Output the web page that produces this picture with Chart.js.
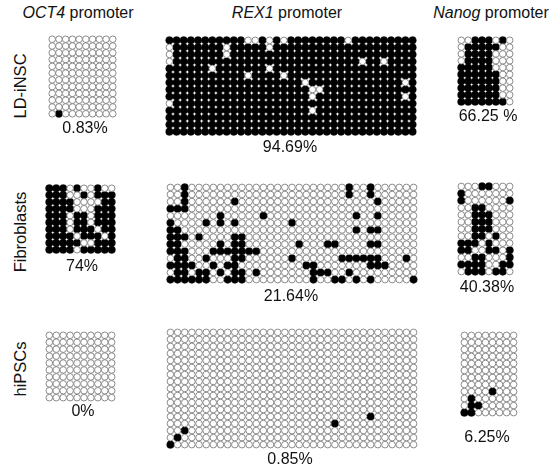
<!DOCTYPE html>
<html><head><meta charset="utf-8">
<script src="https://cdn.jsdelivr.net/npm/chart.js@4.4.1/dist/chart.umd.min.js"></script>
<style>
html,body{margin:0;padding:0;background:#fff;}
#wrap{position:relative;width:554px;height:466px;overflow:hidden;font-family:"Liberation Sans",Arial,sans-serif;color:#111;}
.t{position:absolute;white-space:nowrap;transform:translate(-50%,-50%);font-size:16px;line-height:1;}
.r{position:absolute;white-space:nowrap;transform:translate(-50%,-50%) rotate(-90deg);font-size:16.5px;line-height:1;}
canvas{position:absolute;}
</style></head><body><div id="wrap"></div>
<script>
// ---- data: 1 = methylated CpG (filled), 0 = unmethylated (open); one string per clone ----
const promoters = ["OCT4", "REX1", "Nanog"];
const cellTypes = ["LD-iNSC", "Fibroblasts", "hiPSCs"];
const percentLabels = [["0.83%", "94.69%", "66.25 %"], ["74%", "21.64%", "40.38%"], ["0%", "0.85%", "6.25%"]];

const OCT4_LD = ["0000000000","0000000000","0000000000","0000000000","0000000000","0000000000",
  "0000000000","0000000000","0000000000","0000000000","0000000000","0100000000"];
const OCT4_Fib = ["1110100100","1110010111","1111000011","1111000111","1110110111",
  "1110110111","1110111011","1111011101","1111100111","1111011111"];
const OCT4_hiPSC = ["0000000000","0000000000","0000000000","0000000000","0000000000",
  "0000000000","0000000000","0000000000","0000000000","0000000000"];

const REX1_LD = [
  "11111 11111 10010 10111 11111 01111 11111",
  "01111 11101 11110 11111 11111 11111 11111",
  "01111 11101 11111 11111 11111 11111 11111",
  "01111 11111 11111 11111 11111 11011 01111",
  "11111 10111 11110 11111 11111 11111 11111",
  "11111 11111 10111 10111 11111 11111 11111",
  "11111 11111 11111 11110 11111 11111 11101",
  "11111 11111 11111 11111 00111 11111 11111",
  "11111 11111 11111 11111 01111 11111 11101",
  "01111 11111 11111 11111 11111 11111 11111",
  "11111 11111 11111 11111 01111 11111 11111",
  "11111 11111 11111 11111 11111 11111 11111",
  "11111 11111 11111 11111 11111 11111 11111",
  "11111 11111 11111 11111 11111 11111 11111"];
const REX1_Fib = [
  "00100 00000 00000 00000 00000 10010 00000",
  "00100 00000 00000 00000 00000 10010 00000",
  "00100 00001 00000 00000 00000 00001 00000",
  "11100 00000 00000 00000 00000 00000 00000",
  "00000 00100 00010 00000 00000 01001 00000",
  "10000 10101 00000 00100 00000 00000 00000",
  "11000 00000 00000 00000 00000 01011 00000",
  "11101 00001 10000 00000 00000 00000 00000",
  "11000 00101 10000 00010 00110 00011 00000",
  "11100 01111 11100 00000 00000 00000 00000",
  "01100 10001 10000 00100 00001 11111 00010",
  "11110 01011 00000 00001 10000 00011 10000",
  "01101 10101 10100 00000 11100 10000 00000",
  "11111 10011 10000 00000 10011 01010 00001"];
const REX1_hiPSC = [
  "00000 00000 00000 00000 00000 00000 00000",
  "00000 00000 00000 00000 00000 00000 00000",
  "00000 00000 00000 00000 00000 00000 00000",
  "00000 00000 00000 00000 00000 00000 00000",
  "00000 00000 00000 00000 00000 00000 00000",
  "00000 00000 00000 00000 00000 00000 00000",
  "00000 00000 00000 00000 00000 00000 00000",
  "00000 00000 00000 00000 00000 00000 00000",
  "00000 00000 00000 00000 00000 00000 00000",
  "00000 00000 00000 00000 00000 00000 00000",
  "00000 00000 00000 00000 00000 00000 00000",
  "00000 00000 00000 00000 00000 00000 00000",
  "00000 00000 00000 00000 00000 00010 00000",
  "00000 00000 00000 00000 00010 00000 00000",
  "00100 00000 00000 00000 00000 00000 00000",
  "01000 00000 00000 00000 00000 00000 00000",
  "10000 00000 00000 00000 00000 00000 00000"];

const Nanog_LD = ["00111010","01111100","01111000","01111000","11111000",
  "11111100","11111100","11111100","11111100","11111110"];
const Nanog_Fib = ["00011000","10000000","10000001","00110000","00111000","00111000","00111000",
  "00110100","11101000","11001101","00110001","11110011","01110110"];
const Nanog_hiPSC = ["00000000","00000000","00000000","00000000","00000000","00000000",
  "00000000","00000000","00001000","01000000","01100000","11000000"];

const grids = [[OCT4_LD, REX1_LD, Nanog_LD], [OCT4_Fib, REX1_Fib, Nanog_Fib], [OCT4_hiPSC, REX1_hiPSC, Nanog_hiPSC]];

// ---- layout (pixel boxes of each panel, label anchors) ----
const boxes = [
  [[48,35,69,83],[165,36,252,100],[457,36,57,70]],
  [[45,184,71,70],[166,183,252,101],[457,182,57,94]],
  [[45,331,71,71],[166,328,252,121],[460,331,58,86]]
];
const pctPos = [[[85,128],[290,147],[488,116]],[[82,266],[291,296],[487,287]],[[83,411],[290,459],[487,437]]];
const titlePos = [[78,13],[287,13],[491,13]];
const rowPos = [[20,86],[20,232],[20,369]];

const wrap = document.getElementById('wrap');
function addText(cls, html, x, y) {
  const d = document.createElement('div');
  d.className = cls; d.innerHTML = html;
  d.style.left = x + 'px'; d.style.top = y + 'px';
  wrap.appendChild(d);
}
promoters.forEach((p, i) => addText('t', '<i>' + p + '</i> promoter', titlePos[i][0], titlePos[i][1]));
cellTypes.forEach((c, i) => addText('r', c, rowPos[i][0], rowPos[i][1]));

const PAD = 4;
for (let r = 0; r < 3; r++) {
  for (let c = 0; c < 3; c++) {
    const rows = grids[r][c].map(s => s.replace(/ /g, ''));
    const nRows = rows.length, nCols = rows[0].length;
    const open = [], filled = [];
    rows.forEach((s, ri) => { for (let ci = 0; ci < s.length; ci++) (s[ci] === '1' ? filled : open).push({x: ci, y: ri}); });
    const [L, T, W, H] = boxes[r][c];
    const cv = document.createElement('canvas');
    cv.width = W + 2 * PAD; cv.height = H + 2 * PAD;
    cv.style.left = (L - PAD) + 'px'; cv.style.top = (T - PAD) + 'px';
    wrap.appendChild(cv);
    new Chart(cv.getContext('2d'), {
      type: 'scatter',
      data: { datasets: [
        { data: open, pointRadius: 3.3, backgroundColor: '#ffffff', borderColor: '#777777', borderWidth: 0.85, clip: false },
        { data: filled, pointRadius: 3.8, backgroundColor: '#000000', borderColor: '#000000', borderWidth: 0.3, clip: false }
      ]},
      options: {
        responsive: false, animation: false, events: [],
        layout: { padding: PAD },
        plugins: { legend: { display: false }, tooltip: { enabled: false } },
        scales: {
          x: { type: 'linear', display: false, min: -0.5, max: nCols - 0.5 },
          y: { type: 'linear', display: false, reverse: true, min: -0.5, max: nRows - 0.5 }
        }
      }
    });
    addText('t', percentLabels[r][c], pctPos[r][c][0], pctPos[r][c][1]);
  }
}
</script></body></html>
